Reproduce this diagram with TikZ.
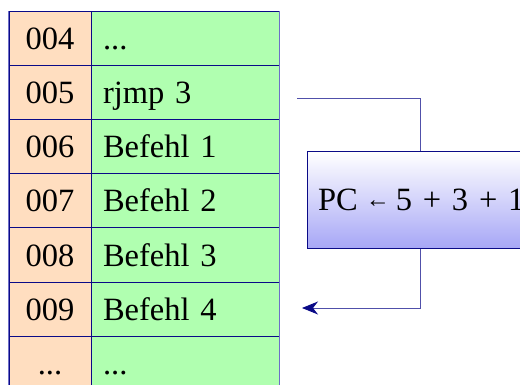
\documentclass[tikz,border=0pt]{standalone}
\usepackage{fontspec}
\setmainfont{Liberation Serif}
\usetikzlibrary{arrows.meta}
\definecolor{navyline}{RGB}{10,10,135}
\definecolor{edgeblue}{RGB}{110,110,200}
\definecolor{wireblue}{RGB}{80,80,170}
\definecolor{addrfill}{RGB}{255,222,192}
\definecolor{codefill}{RGB}{176,255,176}
\definecolor{boxbottom}{RGB}{166,166,246}
\newcommand{\assignarrow}{\raisebox{3pt}{\fontsize{24}{24}\selectfont ←}}
\begin{document}
\begin{tikzpicture}[x=1pt,y=-1pt,
  font=\fontsize{32.5}{40}\selectfont,
  addr/.style={draw=navyline, line width=1pt, fill=addrfill, rectangle,
    minimum width=82pt, minimum height=54pt, inner sep=0pt,
    text height=28pt, text depth=6pt},
  code/.style={draw=navyline, line width=1pt, fill=codefill, rectangle,
    minimum height=54pt, inner xsep=12pt, inner ysep=0pt, text width=164pt,
    align=left, text height=28pt, text depth=6pt},
  calc/.style={draw=navyline, line width=1pt, rectangle,
    top color=white, bottom color=boxbottom,
    minimum height=97pt, inner xsep=11pt, inner ysep=0pt, text width=250pt,
    align=left, text height=28pt, text depth=7pt},
  wire/.style={draw=wireblue, line width=0.9pt},
  tip/.style={-{Stealth[length=16pt,width=13pt,inset=5pt,color=navyline,fill=navyline]}}
]
\useasboundingbox (0,0) rectangle (520,385);
\clip (0,0) rectangle (520,385);

% memory table: address column and instruction column
\node[addr] (a4) at (50,39)  {004};
\node[addr] (a5) at (50,93)  {005};
\node[addr] (a6) at (50,147) {006};
\node[addr] (a7) at (50,201) {007};
\node[addr] (a8) at (50,255) {008};
\node[addr] (a9) at (50,309) {009};
\node[addr] (aa) at (50,363) {...};

\node[code] (c4) at (185,39)  {...};
\node[code] (c5) at (185,93)  {rjmp 3};
\node[code] (c6) at (185,147) {Befehl 1};
\node[code] (c7) at (185,201) {Befehl 2};
\node[code] (c8) at (185,255) {Befehl 3};
\node[code] (c9) at (185,309) {Befehl 4};
\node[code] (ca) at (185,363) {...};

% lighter outer side edges of the table
\draw[edgeblue, line width=1pt] (a4.north west) -- (aa.south west);
\draw[edgeblue, line width=1pt] (c4.north east) -- (ca.south east);

% program counter update
\node[calc] (pc) at (443,200.5) {\mbox{PC\hspace{8pt}\assignarrow\hspace{6pt}5 + 3 + 1}};

\coordinate (from) at (297,98);
\coordinate (turn) at (420,98);
\coordinate (to) at (302,308);

\draw[wire] (from) -- (turn) -- (turn |- pc.north);
\draw[wire, tip] (turn |- pc.south) |- (to);
\end{tikzpicture}
\end{document}
